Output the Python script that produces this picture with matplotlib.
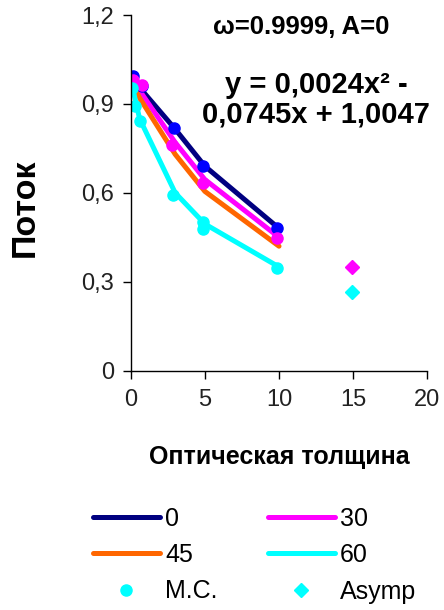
import matplotlib
matplotlib.use('Agg')
import matplotlib.pyplot as plt
from matplotlib.lines import Line2D

plt.rcParams['font.family'] = ['Liberation Sans', 'DejaVu Sans']

# Curves (one per angle)
tau_line = [0.1, 0.6, 3, 5, 10]
flux_0 = [0.995, 0.955, 0.815, 0.69, 0.48]
flux_30 = [0.985, 0.945, 0.77, 0.645, 0.45]
flux_45 = [0.97, 0.92, 0.73, 0.605, 0.42]
flux_60 = [0.96, 0.85, 0.60, 0.495, 0.35]

# Monte Carlo points
mc_tau_0 = [0.15, 0.75, 2.9, 4.85, 9.85]
mc_flux_0 = [0.993, 0.959, 0.819, 0.689, 0.481]
mc_tau_30 = [0.15, 0.75, 2.8, 4.9, 9.85]
mc_flux_30 = [0.98, 0.965, 0.762, 0.633, 0.447]
mc_tau_60 = [0.07, 0.3, 0.63, 2.85, 4.85, 4.9, 9.85]
mc_flux_60 = [0.954, 0.892, 0.841, 0.594, 0.50, 0.478, 0.346]

# Asymptotic points
as_tau = [14.9, 14.9]
as_flux = [0.351, 0.264]
as_colors = ['#ff00ff', '#00ffff']

c0, c30, c45, c60 = '#000080', '#ff00ff', '#ff6600', '#00ffff'

fig = plt.figure(figsize=(4.44, 6.10), dpi=100)
ax = fig.add_axes([0.2944, 0.3923, 0.668, 0.5831])

lw = 3.6
ax.plot(tau_line, flux_0, color=c0, lw=lw, solid_capstyle='round')
ax.plot(tau_line, flux_30, color=c30, lw=lw, solid_capstyle='round')
ax.plot(tau_line, flux_45, color=c45, lw=lw, solid_capstyle='round')
ax.plot(tau_line, flux_60, color=c60, lw=lw, solid_capstyle='round')

ms = 8
ax.plot(mc_tau_0, mc_flux_0, 'o', color='#0000ff', ms=ms)
ax.plot(mc_tau_30, mc_flux_30, 'o', color=c30, ms=ms)
ax.plot(mc_tau_60, mc_flux_60, 'o', color=c60, ms=ms)
for t, f, c in zip(as_tau, as_flux, as_colors):
    ax.plot(t, f, 'D', color=c, ms=7)

ax.set_xlim(0, 20)
ax.set_ylim(0, 1.2)
ax.set_xticks([0, 5, 10, 15, 20])
ax.set_yticks([0, 0.3, 0.6, 0.9, 1.2])
ax.set_yticklabels(['0', '0,3', '0,6', '0,9', '1,2'])
for s in ['top', 'right']:
    ax.spines[s].set_visible(False)
for s in ['left', 'bottom']:
    ax.spines[s].set_linewidth(1)
ax.tick_params(labelsize=17, length=6, width=1, pad=6, colors='black')
ax.tick_params(axis='x', pad=7)
for lab in ax.get_xticklabels() + ax.get_yticklabels():
    lab.set_color('#222222')

fig.text(25 / 444, 1 - 208 / 610, 'Поток', rotation=90, fontsize=24.5,
         fontweight='bold', ha='center', va='center')
fig.text(279 / 444, 1 - 457 / 610, 'Оптическая толщина', fontsize=18,
         fontweight='bold', ha='center', va='center')
fig.text(301 / 444, 1 - 27 / 610, 'ω=0.9999, A=0', fontsize=18.5,
         fontweight='bold', ha='center', va='center')
fig.text(316 / 444, 1 - 100 / 610, 'y = 0,0024x² -\n0,0745x + 1,0047',
         fontsize=21, fontweight='bold', ha='center', va='center',
         multialignment='center', linespacing=1.05)

handles = [
    Line2D([], [], color=c0, lw=lw, solid_capstyle='round'),
    Line2D([], [], color=c45, lw=lw, solid_capstyle='round'),
    Line2D([], [], color=c60, marker='o', ls='none', ms=ms),
    Line2D([], [], color=c30, lw=lw, solid_capstyle='round'),
    Line2D([], [], color=c60, lw=lw, solid_capstyle='round'),
    Line2D([], [], color=c60, marker='D', ls='none', ms=7),
]
labels = ['0', '45', 'M.C.', '30', '60', 'Asymp']
fig.legend(handles, labels, ncol=2, loc='upper left',
           bbox_to_anchor=(80 / 444, 1 - 494 / 610), frameon=False,
           fontsize=18, handlelength=2.7, handletextpad=0.2,
           columnspacing=2.0, labelspacing=0.5, borderpad=0)

fig.savefig('out.png', dpi=100)
